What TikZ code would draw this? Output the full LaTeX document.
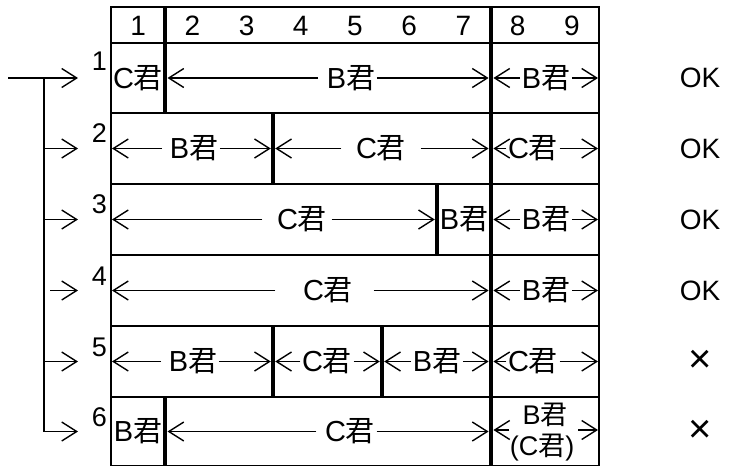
\documentclass[tikz,border=0pt]{standalone}
\usepackage{fontspec}
\setmainfont{Liberation Sans}
\newfontfamily\cjk{Noto Sans CJK JP}
\usetikzlibrary{arrows.meta}
\newcommand\Kun{{\cjk 君}}
\begin{document}
\begin{tikzpicture}[x=1pt,y=-1pt,
  thinline/.style={line width=1.8pt},
  thickline/.style={line width=4.4pt},
  arr/.style={line width=1.4pt,-{Straight Barb[length=15pt,width=19pt,line width=1.4pt]}},
  lbl/.style={font=\fontsize{29}{31}\selectfont,inner xsep=1.5pt,inner ysep=0pt},
  small/.style={font=\fontsize{27}{29}\selectfont,inner sep=0pt},
  hdr/.style={font=\fontsize{28}{30}\selectfont,inner sep=0pt},
  rowno/.style={font=\fontsize{27}{29}\selectfont,inner sep=0pt,anchor=east},
  verdict/.style={font=\fontsize{28}{30}\selectfont,inner sep=0pt},
  cross/.style={font=\fontsize{40}{42}\selectfont,inner sep=0pt}]
\useasboundingbox (0,0) rectangle (734,467);

% ---------- table grid ----------
\draw[thinline] (111,7) rectangle (599,465.5);
\foreach \yy in {43,113,184,255,326,397}{\draw[thinline] (111,\yy) -- (599,\yy);}
\draw[thickline] (165,7) -- (165,113);
\draw[thickline] (165,397) -- (165,466);
\draw[thickline] (491,7) -- (491,466);
\draw[thickline] (273,113) -- (273,184);
\draw[thickline] (437,184) -- (437,255);
\draw[thickline] (273,326) -- (273,397);
\draw[thickline] (382,326) -- (382,397);

% ---------- header ----------
\foreach \k in {1,...,9}{\node[hdr] (h\k) at ({111+(\k-0.5)*54.22},26) {\k};}

% ---------- row 1 ----------
\node[lbl] (r1a) at (138,78) {C\Kun};
\node[lbl] (r1b) at (351,78) {B\Kun};
\coordinate (r1bL) at (167.5,78); \coordinate (r1bR) at (488.6,78);
\draw[arr,shorten <=7pt] (r1b.west) -- (r1bL);
\draw[arr] (r1b.east) -- (r1bR);
\node[lbl] (r1c) at (546,78) {B\Kun};
\coordinate (r1cL) at (493.4,78); \coordinate (r1cR) at (598,78);
\draw[arr] (r1c.west) -- (r1cL);
\draw[arr] (r1c.east) -- (r1cR);

% ---------- row 2 ----------
\node[lbl] (r2a) at (194,148.5) {B\Kun};
\coordinate (r2aL) at (112,148.5); \coordinate (r2aR) at (270.8,148.5);
\draw[arr,shorten <=6pt] (r2a.west) -- (r2aL);
\draw[arr] (r2a.east) -- (r2aR);
\node[lbl] (r2b) at (381,148.5) {C\Kun};
\coordinate (r2bL) at (275.2,148.5); \coordinate (r2bR) at (488.6,148.5);
\draw[arr,shorten <=13pt] (r2b.west) -- (r2bL);
\draw[arr,shorten <=13pt] (r2b.east) -- (r2bR);
\node[lbl] (r2c) at (533,148.5) {C\Kun};
\coordinate (r2cL) at (493.4,148.5); \coordinate (r2cR) at (598,148.5);
\draw[arr] (r2c.west) -- (r2cL);
\draw[arr] (r2c.east) -- (r2cR);

% ---------- row 3 ----------
\node[lbl] (r3a) at (302,219.5) {C\Kun};
\coordinate (r3aL) at (112,219.5); \coordinate (r3aR) at (434.8,219.5);
\draw[arr,shorten <=13pt] (r3a.west) -- (r3aL);
\draw[arr,shorten <=3pt] (r3a.east) -- (r3aR);
\node[lbl] (r3b) at (464,219.5) {B\Kun};
\node[lbl] (r3c) at (546,219.5) {B\Kun};
\coordinate (r3cL) at (493.4,219.5); \coordinate (r3cR) at (598,219.5);
\draw[arr] (r3c.west) -- (r3cL);
\draw[arr] (r3c.east) -- (r3cR);

% ---------- row 4 ----------
\node[lbl] (r4a) at (328,290.5) {C\Kun};
\coordinate (r4aL) at (112,290.5); \coordinate (r4aR) at (488.6,290.5);
\draw[arr,shorten <=26pt] (r4a.west) -- (r4aL);
\draw[arr,shorten <=19pt] (r4a.east) -- (r4aR);
\node[lbl] (r4b) at (546,290.5) {B\Kun};
\coordinate (r4bL) at (493.4,290.5); \coordinate (r4bR) at (598,290.5);
\draw[arr] (r4b.west) -- (r4bL);
\draw[arr] (r4b.east) -- (r4bR);

% ---------- row 5 ----------
\node[lbl] (r5a) at (193,361.5) {B\Kun};
\coordinate (r5aL) at (112,361.5); \coordinate (r5aR) at (270.8,361.5);
\draw[arr,shorten <=6pt] (r5a.west) -- (r5aL);
\draw[arr] (r5a.east) -- (r5aR);
\node[lbl] (r5b) at (327,361.5) {C\Kun};
\coordinate (r5bL) at (275.2,361.5); \coordinate (r5bR) at (379.8,361.5);
\draw[arr] (r5b.west) -- (r5bL);
\draw[arr] (r5b.east) -- (r5bR);
\node[lbl] (r5c) at (437,361.5) {B\Kun};
\coordinate (r5cL) at (384.2,361.5); \coordinate (r5cR) at (488.6,361.5);
\draw[arr] (r5c.west) -- (r5cL);
\draw[arr] (r5c.east) -- (r5cR);
\node[lbl] (r5d) at (533,361.5) {C\Kun};
\coordinate (r5dL) at (493.4,361.5); \coordinate (r5dR) at (598,361.5);
\draw[arr] (r5d.west) -- (r5dL);
\draw[arr] (r5d.east) -- (r5dR);

% ---------- row 6 ----------
\node[lbl] (r6a) at (138,431.5) {B\Kun};
\node[lbl] (r6b) at (350,431.5) {C\Kun};
\coordinate (r6bL) at (167.5,431.5); \coordinate (r6bR) at (488.6,431.5);
\draw[arr,shorten <=7pt] (r6b.west) -- (r6bL);
\draw[arr] (r6b.east) -- (r6bR);
\node[small] (r6c) at (545,415) {B\Kun};
\node[small] (r6d) at (542,448) {(C\Kun)};
\coordinate (r6cLs) at (509,430); \coordinate (r6cL) at (493.4,430);
\coordinate (r6cRs) at (578,430); \coordinate (r6cR) at (598,430);
\draw[arr] (r6cLs) -- (r6cL);
\draw[arr] (r6cRs) -- (r6cR);

% ---------- row numbers ----------
\node[rowno] (n1) at (107,61) {1};
\node[rowno] (n2) at (107,133) {2};
\node[rowno] (n3) at (107,204) {3};
\node[rowno] (n4) at (107,276) {4};
\node[rowno] (n5) at (107,347) {5};
\node[rowno] (n6) at (107,417) {6};

% ---------- left bracket ----------
\coordinate (s0) at (8,78);
\coordinate (j1) at (44,78);
\coordinate (t1) at (78,78);
\coordinate (j2) at (44,148.5); \coordinate (t2) at (78,148.5);
\coordinate (j3) at (44,219.5); \coordinate (t3) at (78,219.5);
\coordinate (j4) at (50,290.5); \coordinate (t4) at (78,290.5);
\coordinate (j5) at (44,361.5); \coordinate (t5) at (78,361.5);
\coordinate (t6) at (78,431.5);
\draw[arr] (s0) -- (t1);
\draw[arr] (j1) |- (t6);
\draw[arr] (j2) -- (t2);
\draw[arr] (j3) -- (t3);
\draw[arr] (j4) -- (t4);
\draw[arr] (j5) -- (t5);

% ---------- verdicts ----------
\node[verdict] (v1) at (700,78) {OK};
\node[verdict] (v2) at (700,148.5) {OK};
\node[verdict] (v3) at (700,219.5) {OK};
\node[verdict] (v4) at (700,290.5) {OK};
\node[cross] (v5) at (700,361.5) {×};
\node[cross] (v6) at (700,431.5) {×};
\end{tikzpicture}
\end{document}
